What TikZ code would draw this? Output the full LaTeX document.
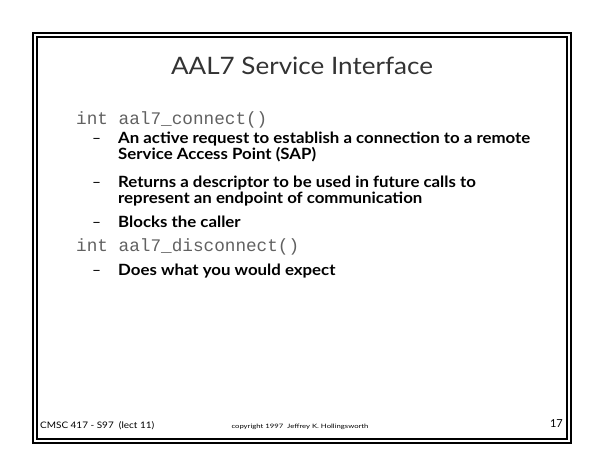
\documentclass[tikz,border=0pt]{standalone}
\usepackage{fontspec}
\setmainfont{Lato}
\newfontfamily\codefont{Liberation Mono}
\newlength\fitlen
\newcommand\bulletfont{\fontsize{15.5}{18}\selectfont\bfseries}
\newcommand\titlefont{\fontsize{24}{28}\selectfont}
\newcommand\footfont{\fontsize{9}{10}\selectfont}
\newcommand\tinyfont{\fontsize{6}{7}\selectfont}
% scale text horizontally to an exact width: #1 width (pt), #2 font, #3 text
\newcommand\fitto[3]{\settowidth\fitlen{#2#3}\pgfmathsetmacro\fitratio{#1/\fitlen}\scalebox{\fitratio}[1]{#2#3}}
\newcommand\B[1]{\scalebox{\bratio}[1]{\bulletfont #1}}
\begin{document}
\settowidth\fitlen{\bulletfont An active request to establish a connection to a remote}%
\pgfmathsetmacro\bratio{412/\fitlen}%
\begin{tikzpicture}[x=1pt,y=-1pt,
  frameline/.style={draw=black,line width=1.3pt},
  titletext/.style={anchor=base,inner sep=0pt,text=black!80},
  codetext/.style={anchor=base west,inner sep=0pt,font=\codefont\fontsize{17.7}{20}\selectfont,text=black!62},
  bullettext/.style={anchor=base west,inner sep=0pt,text=black},
  dashtext/.style={anchor=base west,inner sep=0pt,font=\fontsize{15.5}{18}\selectfont,text=black},
  foottext/.style={anchor=base west,inner sep=0pt,text=black}]
\useasboundingbox (0,0) rectangle (605,468);
\draw[frameline] (33,33) rectangle (571,443);
\draw[frameline] (37,37) rectangle (567,439);
\node[titletext] (title) at (302,75) {\fitto{262}{\titlefont}{AAL7 Service Interface}};
\node[codetext] (c1) at (76,125) {int aal7\_connect()};
\node[dashtext] (d1) at (92,144) {–};
\node[bullettext] (b1a) at (118,144) {\B{An active request to establish a connection to a remote}};
\node[bullettext] (b1b) at (118,160) {\B{Service Access Point (SAP)}};
\node[dashtext] (d2) at (92,187) {–};
\node[bullettext] (b2a) at (118,187) {\B{Returns a descriptor to be used in future calls to}};
\node[bullettext] (b2b) at (118,203) {\B{represent an endpoint of communication}};
\node[dashtext] (d3) at (92,227) {–};
\node[bullettext] (b3) at (118,227) {\B{Blocks the caller}};
\node[codetext] (c2) at (76,251) {int aal7\_disconnect()};
\node[dashtext] (d4) at (92,275) {–};
\node[bullettext] (b4) at (118,275) {\B{Does what you would expect}};
\node[foottext] (f1) at (40,428) {\fitto{114}{\footfont}{CMSC 417 - S97\ \ (lect 11)}};
\node[foottext,anchor=base] (f2) at (300,428) {\fitto{137}{\tinyfont}{copyright 1997\ \ Jeffrey K. Hollingsworth}};
\node[foottext,anchor=base east] (f3) at (563,427) {\fontsize{11}{12}\selectfont 17};
\end{tikzpicture}
\end{document}
